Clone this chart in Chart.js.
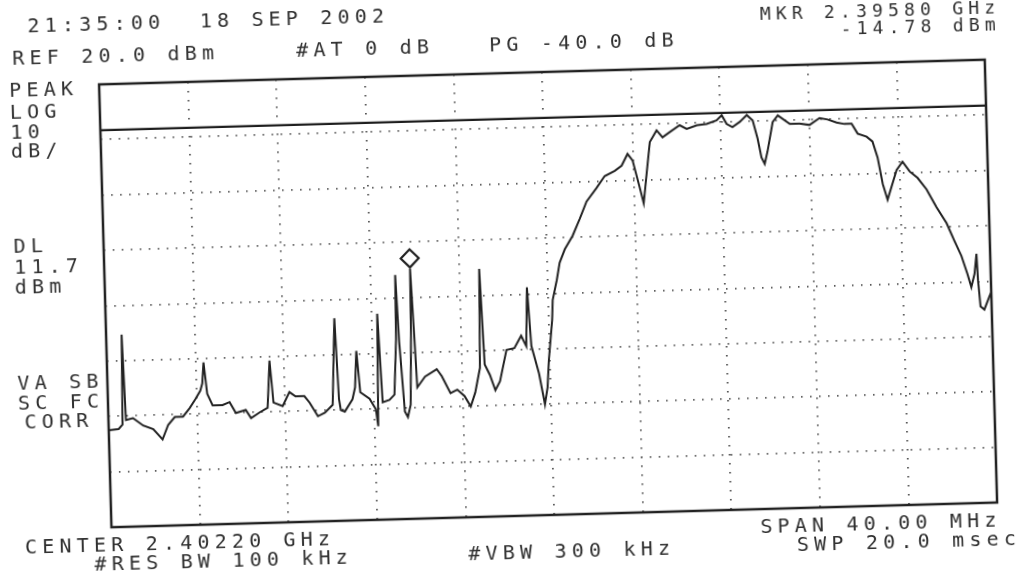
<!DOCTYPE html>
<html>
<head>
<meta charset="utf-8">
<script src="https://cdn.jsdelivr.net/npm/chart.js@4.4.1/dist/chart.umd.min.js"></script>
<style>
html, body { margin: 0; padding: 0; background: #fff; overflow: hidden; }
#page { position: absolute; left: 0; top: 0; width: 1022px; height: 581px;
        transform: rotate(-1.6deg); transform-origin: 511px 290.5px; }
#page canvas { position: absolute; left: 0; top: 0; }
.t { position: absolute; font-family: "DejaVu Sans Mono", monospace; font-size: 20px;
     line-height: 20px; letter-spacing: 5.2px; color: #2f2f2f; white-space: pre; }
.s { font-size: 18px; line-height: 18px; letter-spacing: 5.2px; }
</style>
</head>
<body>
<div id="page">
  <canvas id="sa" width="1022" height="581"></canvas>
  <div class="t" style="left:35px;top:2px">21:35:00  18 SEP 2002</div>
  <div class="t" style="left:19px;top:34px">REF 20.0 dBm</div>
  <div class="t" style="left:303px;top:34px">#AT 0 dB</div>
  <div class="t" style="left:496px;top:34px">PG -40.0 dB</div>
  <div class="t s" style="right:14px;top:12px">MKR 2.39580 GHz</div>
  <div class="t s" style="right:14px;top:29px">-14.78 dBm</div>

  <div class="t" style="left:15px;top:66px">PEAK</div>
  <div class="t" style="left:15px;top:88px">LOG</div>
  <div class="t" style="left:15px;top:108px">10</div>
  <div class="t" style="left:15px;top:127px">dB/</div>
  <div class="t" style="left:15px;top:222px">DL</div>
  <div class="t" style="left:15px;top:243px">11.7</div>
  <div class="t" style="left:15px;top:263px">dBm</div>
  <div class="t" style="left:15px;top:359px">VA SB</div>
  <div class="t" style="left:15px;top:379px">SC FC</div>
  <div class="t" style="left:21px;top:398px">CORR</div>

  <div class="t" style="left:18px;top:523px">CENTER 2.40220 GHz</div>
  <div class="t" style="left:87px;top:542px">#RES BW 100 kHz</div>
  <div class="t" style="left:461px;top:542px">#VBW 300 kHz</div>
  <div class="t" style="right:27px;top:523px">SPAN 40.00 MHz</div>
  <div class="t" style="right:8px;top:542px">SWP 20.0 msec</div>
</div>
<script>
// frequency offset from the left edge of the screen (MHz, 0..40) and measured level (dBm)
var offsetMHz = [
  0.00, 0.45, 0.63, 0.70, 0.79, 1.11, 1.56, 2.01, 2.42, 2.69, 3.00, 3.37, 3.68, 3.95, 4.18, 4.28,
  4.36, 4.49, 4.72, 5.17, 5.49, 5.76, 6.21, 6.44, 6.84, 7.20, 7.34, 7.47, 7.88, 8.20, 8.47, 8.87,
  9.10, 9.46, 9.78, 10.14, 10.32, 10.43, 10.50, 10.68, 11.04, 11.17, 11.27, 11.40, 11.81, 12.08, 12.17, 12.26,
  12.40, 12.71, 12.94, 13.08, 13.12, 13.22, 13.39, 13.52, 13.66, 13.76, 13.80, 13.90, 13.98, 14.34, 14.88, 15.10,
  15.47, 15.78, 16.10, 16.37, 16.59, 16.83, 16.92, 17.05, 17.27, 17.50, 17.72, 18.05, 18.41, 18.73, 18.95, 19.05,
  19.18, 19.49, 19.72, 19.86, 19.95, 20.15, 20.20, 20.41, 20.56, 20.81, 21.18, 21.52, 21.85, 22.32, 22.70, 23.16,
  23.48, 23.76, 23.98, 24.26, 24.43, 24.60, 24.78, 25.10, 25.36, 25.69, 26.15, 26.46, 26.92, 27.37, 27.82, 28.06,
  28.27, 28.53, 28.86, 29.19, 29.45, 29.65, 29.80, 29.94, 30.08, 30.35, 30.59, 31.12, 31.57, 32.01, 32.47, 32.83,
  33.24, 33.59, 33.91, 34.17, 34.57, 34.83, 35.04, 35.24, 35.44, 35.63, 35.88, 36.16, 36.47, 36.82, 37.21, 37.64,
  38.07, 38.41, 38.70, 38.95, 39.11, 39.27, 39.38, 39.42, 39.50, 39.67, 39.92, 40.00
];
var levelDbm = [
  -42.5, -42.3, -41.5, -25.3, -40.7, -40.4, -41.8, -42.5, -44.4, -41.8, -40.4, -40.4, -38.9, -37.3, -35.8, -34.5,
  -30.7, -36.4, -38.5, -38.5, -38.0, -40.0, -39.5, -41.0, -40.0, -39.2, -30.7, -38.3, -39.0, -36.5, -37.3, -37.3,
  -38.5, -41.0, -40.4, -39.0, -23.4, -38.0, -40.0, -40.3, -38.1, -36.0, -29.4, -36.9, -38.1, -40.0, -43.1, -22.8,
  -38.8, -38.4, -37.5, -27.5, -15.9, -28.1, -40.6, -41.6, -39.4, -26.9, -14.8, -26.3, -36.3, -34.4, -33.1, -34.4,
  -37.5, -36.9, -38.1, -40.0, -37.5, -33.1, -15.2, -32.5, -34.4, -37.2, -35.6, -30.0, -29.7, -27.5, -29.4, -18.8,
  -29.4, -34.4, -40.0, -36.9, -32.1, -24.8, -21.2, -17.6, -14.5, -12.1, -9.7, -6.7, -3.6, -1.2, 0.9, 1.8,
  2.7, 4.8, 3.6, -1.2, -4.2, 1.2, 6.8, 8.9, 7.6, 8.5, 9.7, 9.0, 9.6, 9.8, 10.4, 11.3,
  9.7, 9.1, 10.0, 11.2, 10.2, 6.9, 3.5, 2.3, 4.5, 9.8, 11.0, 9.4, 9.4, 9.1, 10.3, 10.0,
  9.4, 9.1, 9.1, 7.3, 6.7, 5.8, 2.9, -1.9, -4.8, -2.5, 0.5, 2.0, 0.2, -1.0, -3.1, -6.4,
  -9.3, -12.6, -15.3, -18.6, -21.0, -18.6, -15.0, -19.8, -24.5, -25.1, -22.7, -22.0
];

var spanMHz = 40;
var mhzPerDiv = 4;
var refLevelDbm = 20;
var dbPerDiv = 10;
var bottomDbm = -60;
var displayLineDbm = 11.7;
var markerMHz = 13.80;
var markerDbm = -14.78;

var trace = [];
for (var i = 0; i < offsetMHz.length; i++) {
    trace.push({ x: offsetMHz[i], y: levelDbm[i] });
}

// screen frame and the marker diamond
var screenPlugin = {
    id: 'screen',
    afterDraw: function (chart) {
        var ctx = chart.ctx;
        var a = chart.chartArea;
        ctx.save();
        ctx.strokeStyle = '#222';
        ctx.lineWidth = 2.5;
        ctx.strokeRect(a.left, a.top, a.right - a.left, a.bottom - a.top);

        var mx = chart.scales.x.getPixelForValue(markerMHz);
        var my = chart.scales.y.getPixelForValue(markerDbm) - 10;
        var r = 9;
        ctx.beginPath();
        ctx.moveTo(mx, my - r);
        ctx.lineTo(mx + r, my);
        ctx.lineTo(mx, my + r);
        ctx.lineTo(mx - r, my);
        ctx.closePath();
        ctx.fillStyle = '#fff';
        ctx.fill();
        ctx.lineWidth = 2.2;
        ctx.stroke();
        ctx.restore();
    }
};

var gridStyle = { color: '#555', lineWidth: 1.8, drawTicks: false };

new Chart(document.getElementById('sa'), {
    type: 'line',
    data: {
        datasets: [{
            data: trace,
            borderColor: '#222',
            borderWidth: 2,
            pointRadius: 0,
            tension: 0
        }, {
            data: [{ x: 0, y: displayLineDbm }, { x: spanMHz, y: displayLineDbm }],
            borderColor: '#1e1e1e',
            borderWidth: 2.2,
            pointRadius: 0
        }]
    },
    plugins: [screenPlugin],
    options: {
        responsive: false,
        animation: false,
        events: [],
        layout: { padding: { left: 105, top: 73, right: 31, bottom: 65 } },
        plugins: { legend: { display: false }, tooltip: { enabled: false } },
        scales: {
            x: {
                type: 'linear',
                min: 0,
                max: spanMHz,
                ticks: { display: false, stepSize: mhzPerDiv },
                grid: gridStyle,
                border: { display: false, dash: [1.5, 7.5] },
                afterFit: function (s) { s.height = 0; }
            },
            y: {
                min: bottomDbm,
                max: refLevelDbm,
                ticks: { display: false, stepSize: dbPerDiv },
                grid: gridStyle,
                border: { display: false, dash: [1.5, 7.5] },
                afterFit: function (s) { s.width = 0; }
            }
        }
    }
});
</script>
</body>
</html>
